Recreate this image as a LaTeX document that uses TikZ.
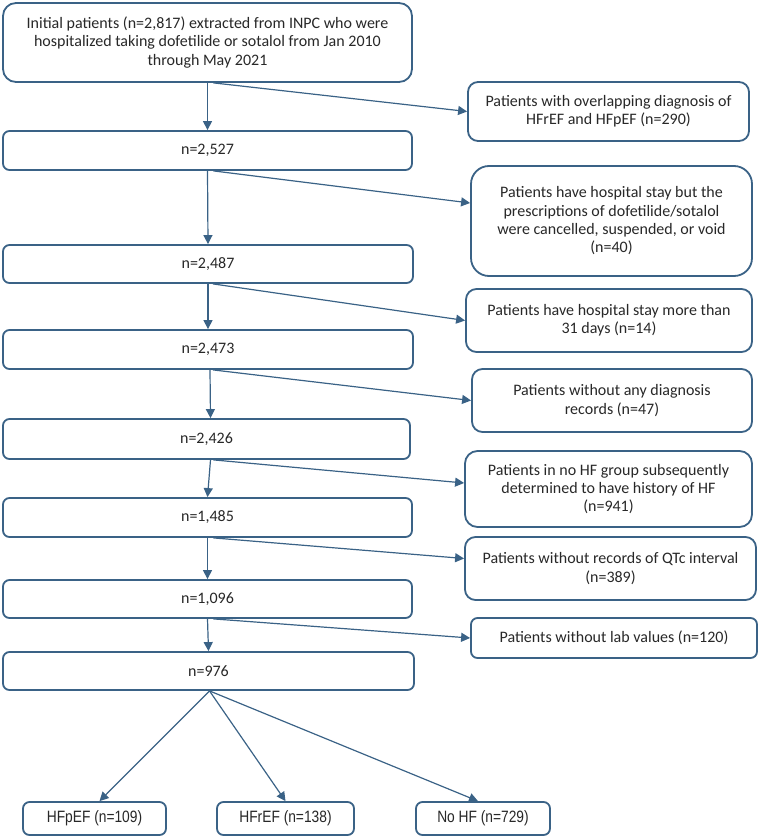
\documentclass[tikz,border=0pt]{standalone}
\usepackage{fontspec}
\setmainfont{Carlito}
\newfontfamily\narrowfont[FakeStretch=0.84]{Liberation Sans}
\usetikzlibrary{arrows.meta}
\definecolor{flowblue}{RGB}{58,98,134}
\definecolor{flowtext}{RGB}{40,40,40}
\tikzset{
  box_n/.style = {draw=flowblue, line width=1.8pt, fill=white, align=center,
    text=flowtext, inner sep=0pt, rounded corners=6.5pt,
    font=\fontsize{16}{18.3}\selectfont},% main cohort box
  box_x/.style = {box_n},% excluded patients
  box_g/.style = {box_n, font=\narrowfont\fontsize{16.4}{18}\selectfont},% final groups
  link/.style = {draw=flowblue, line width=1.2pt},
}
\begin{document}
\begin{tikzpicture}[x=1pt,y=-1pt,->,>={Triangle[length=9pt,width=9pt]}]
\useasboundingbox (0,0) rectangle (758,837);
% cohort
\node [box_n, minimum width=409pt, minimum height=79pt, rounded corners=13pt] (n0) at (207.5,42.5)
  {Initial patients (n=2,817) extracted from INPC who were\\hospitalized taking dofetilide or sotalol from Jan 2010\\through May 2021};
\node [box_n, minimum width=409pt, minimum height=39pt] (n1) at (207.5,150.5) {n=2,527};
\node [box_n, minimum width=410pt, minimum height=38pt] (n2) at (208,264) {n=2,487};
\node [box_n, minimum width=410pt, minimum height=39pt] (n3) at (208,349.5) {n=2,473};
\node [box_n, minimum width=407pt, minimum height=40pt] (n4) at (206.5,439) {n=2,426};
\node [box_n, minimum width=409pt, minimum height=39pt] (n5) at (207.5,517.5) {n=1,485};
\node [box_n, minimum width=409pt, minimum height=38pt] (n6) at (207.5,599) {n=1,096};
\node [box_n, minimum width=411pt, minimum height=38pt] (n7) at (208.5,671) {n=976};
% exclusions
\node [box_x, minimum width=281pt, minimum height=59pt, rounded corners=10pt] (x1) at (608.5,111.5)
  {Patients with overlapping diagnosis of\\HFrEF and HFpEF (n=290)};
\node [box_x, minimum width=281pt, minimum height=110pt, rounded corners=18pt] (x2) at (611.5,221)
  {Patients have hospital stay but the\\prescriptions of dofetilide/sotalol\\were cancelled, suspended, or void\\(n=40)};
\node [box_x, minimum width=286pt, minimum height=63pt, rounded corners=10.5pt] (x3) at (609,320.5)
  {Patients have hospital stay more than\\31 days (n=14)};
\node [box_x, minimum width=280pt, minimum height=63pt, rounded corners=10.5pt] (x4) at (612,400.5)
  {Patients without any diagnosis\\records (n=47)};
\node [box_x, minimum width=287pt, minimum height=76pt, rounded corners=12.5pt] (x5) at (608.5,489)
  {Patients in no HF group subsequently\\determined to have history of HF\\(n=941)};
\node [box_x, minimum width=291pt, minimum height=63pt, rounded corners=10.5pt] (x6) at (610.5,568.5)
  {Patients without records of QTc interval\\(n=389)};
\node [box_x, minimum width=286pt, minimum height=40pt] (x7) at (614,638)
  {Patients without lab values (n=120)};
% groups
\node [box_g, minimum width=143pt, minimum height=33pt] (g1) at (94.5,818.5) {HFpEF (n=109)};
\node [box_g, minimum width=137pt, minimum height=33pt] (g2) at (285.5,818.5) {HFrEF (n=138)};
\node [box_g, minimum width=134pt, minimum height=33pt] (g3) at (483,818.5) {No HF (n=729)};

\draw [link] (n0.south) -- (n1.north);
\draw [link] (n1.south) -- (n2.north);
\draw [link] (n2.south) -- (n3.north);
\draw [link] ([xshift=2pt]n3.south) -- ([xshift=4pt]n4.north);
\draw [link] ([xshift=4pt]n4.south) -- (n5.north);
\draw [link] (n5.south) -- (n6.north);
\draw [link] (n6.south) -- (n7.north);

\draw [link] ([xshift=6pt]n0.south) -- (x1.west);
\draw [link] ([xshift=6pt]n1.south) -- ([yshift=18pt]x2.west);
\draw [link] ([xshift=5pt]n2.south) -- (x3.west);
\draw [link] ([xshift=5pt]n3.south) -- (x4.west);
\draw [link] ([xshift=7pt]n4.south) -- ([yshift=6pt]x5.west);
\draw [link] ([xshift=6pt]n5.south) -- ([yshift=10pt]x6.west);
\draw [link] ([xshift=6pt]n6.south) -- (x7.west);

\draw [link] ([xshift=1pt]n7.south) -- ([xshift=5pt]g1.north);
\draw [link] ([xshift=1pt]n7.south) -- (g2.north);
\draw [link] ([xshift=1pt]n7.south) -- ([xshift=-5pt]g3.north);
\end{tikzpicture}
\end{document}
